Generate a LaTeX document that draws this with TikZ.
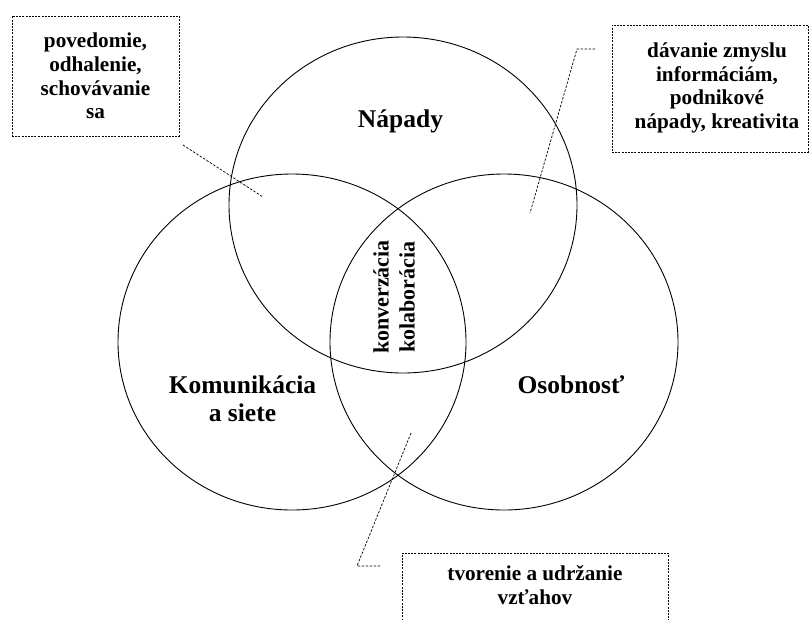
\documentclass[tikz,border=0pt]{standalone}
\usepackage{fontspec}
\setmainfont{Liberation Serif}
\usetikzlibrary{shapes.geometric}
\begin{document}
\begin{tikzpicture}[x=1pt,y=-1pt,
  ring/.style={ellipse, draw, line width=0.9pt, minimum width=348pt, minimum height=336pt, inner sep=0pt},
  biglabel/.style={font=\fontsize{25.5}{28}\selectfont\bfseries, align=center, inner sep=0pt},
  note/.style={font=\fontsize{21.2}{23.8}\selectfont\bfseries, align=center, inner sep=0pt},
  callout/.style={draw, dash pattern=on 2pt off 1.2pt, line width=0.7pt, inner sep=0pt},
  leader/.style={dash pattern=on 2.5pt off 1.5pt, line width=0.7pt}]
\useasboundingbox (0,0) rectangle (811,619);
\clip (0,0) rectangle (811,619);

% the three overlapping areas
\node[ring] (ideas) at (403,205) {};
\node[ring] (comm)  at (292,342) {};
\node[ring] (pers)  at (504,342) {};

% area titles
\node[biglabel, anchor=base] (ideaslbl) at (400.5,127) {Nápady};
\node[biglabel] (commlbl) at (242.5,399) {Komunikácia\\a siete};
\node[biglabel, anchor=base] (perslbl) at (571,393) {Osobnosť};

% common core
\node[note, rotate=90, font=\fontsize{22}{26}\selectfont\bfseries] (core) at (394,297) {konverzácia\\kolaborácia};

% callout boxes
\node[callout, minimum width=167pt, minimum height=120pt] (box1) at (95.5,76) {};
\node[note] (txt1) at (95.5,76) {povedomie,\\odhalenie,\\schovávanie\\sa};

\node[callout, minimum width=196pt, minimum height=127pt] (box2) at (710,88.5) {};
\node[note] (txt2) at (717,88) {dávanie zmyslu\\informáciám,\\podnikové\\nápady, kreativita};

\node[callout, minimum width=266pt, minimum height=100pt] (box3) at (535,603) {};
\node[note] (txt3) at (535,585) {tvorenie a udržanie\\vzťahov};

% leader lines
\coordinate (l1a) at (183,145);
\coordinate (l1b) at (263,197);
\coordinate (l2a) at (595,49);
\coordinate (l2b) at (577,49);
\coordinate (l2c) at (530,213);
\coordinate (l3a) at (380,566);
\coordinate (l3b) at (357,566);
\coordinate (l3c) at (411,433);
\draw[leader] (l1a) -- (l1b);
\draw[leader] (l2a) -- (l2b) -- (l2c);
\draw[leader] (l3a) -- (l3b) -- (l3c);
\end{tikzpicture}
\end{document}
